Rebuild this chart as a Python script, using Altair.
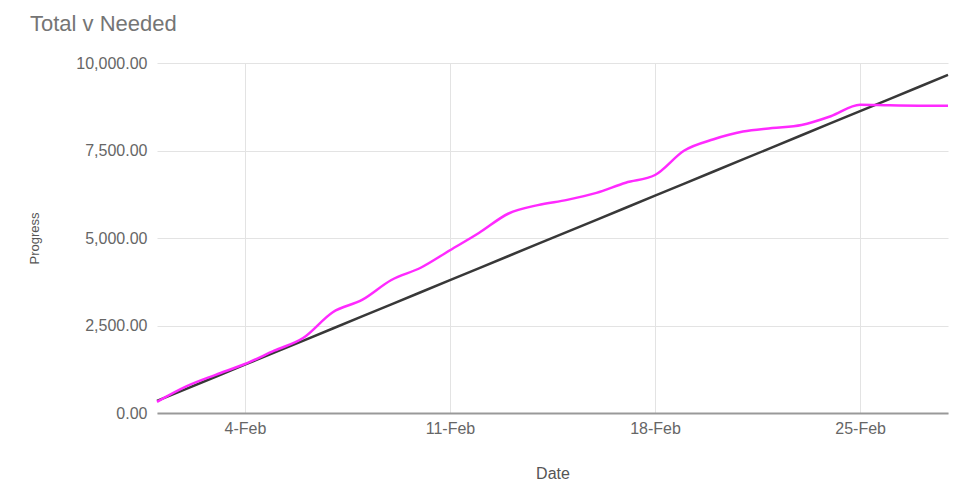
import altair as alt
import pandas as pd

dates = [f"2023-02-{d:02d}" for d in range(1, 29)]
total = [320, 760, 1090, 1400, 1780, 2150, 2880, 3230, 3800, 4150,
         4650, 5150, 5700, 5940, 6090, 6290, 6580, 6800, 7500, 7820,
         8040, 8140, 8230, 8480, 8810, 8790, 8780, 8780]
needed = [345, 690, 1035, 1380, 1725, 2070, 2415, 2760, 3105, 3450,
          3795, 4140, 4485, 4830, 5175, 5520, 5865, 6210, 6555, 6900,
          7245, 7590, 7935, 8280, 8625, 8970, 9315, 9660]
y_ticks = [0, 2500, 5000, 7500, 10000]
x_tick_days = [4, 11, 18, 25]

df = pd.DataFrame({"date": dates, "total": total, "needed": needed})

FONT = "Liberation Sans"
x_enc = alt.X(
    "date:T",
    scale=alt.Scale(type="utc", domain=[alt.DateTime(year=2023, month=2, date=1, utc=True),
                                        alt.DateTime(year=2023, month=2, date=28, utc=True)]),
    axis=alt.Axis(
        values=[alt.DateTime(year=2023, month=2, date=d, utc=True) for d in x_tick_days],
        format="%-d-%b", title="Date", grid=True, gridColor="#e3e3e3",
        domainColor="#999999", domainWidth=2, ticks=False, labelPadding=7,
        labelFontSize=16, labelColor="#666666", labelFont=FONT,
        titleFont=FONT, titleFontSize=16, titleColor="#555555", titleFontWeight="normal",
        titlePadding=29,
    ),
)
y_scale = alt.Scale(domain=[0, 10000])
y_axis = alt.Axis(
    values=y_ticks, format=",.2f", title="Progress", grid=True, gridColor="#e3e3e3",
    domain=False, ticks=False, labelPadding=10, labelFontSize=16, labelColor="#666666",
    labelFont=FONT, titleFont=FONT, titleFontSize=13, titleColor="#555555",
    titleFontWeight="normal", titlePadding=34,
)

base = alt.Chart(df).encode(x=x_enc)
needed_line = base.mark_line(color="#383838", strokeWidth=2.5).encode(
    y=alt.Y("needed:Q", scale=y_scale, axis=y_axis))
total_line = base.mark_line(color="#ff2aff", strokeWidth=2.5, interpolate="monotone").encode(
    y=alt.Y("total:Q", scale=y_scale, axis=y_axis))

chart = alt.layer(needed_line, total_line).properties(
    width=791, height=350,
    autosize=alt.AutoSizeParams(type="none"),
    padding={"left": 149, "top": 55, "right": 5, "bottom": 80},
    title=alt.TitleParams("Total v Needed", anchor="start", frame="group", dx=-127, offset=19,
                          fontSize=22, font=FONT, fontWeight="normal", color="#757575"),
).configure_view(stroke=None)

chart.save("out.html", embed_options={"renderer": "svg", "actions": False})
